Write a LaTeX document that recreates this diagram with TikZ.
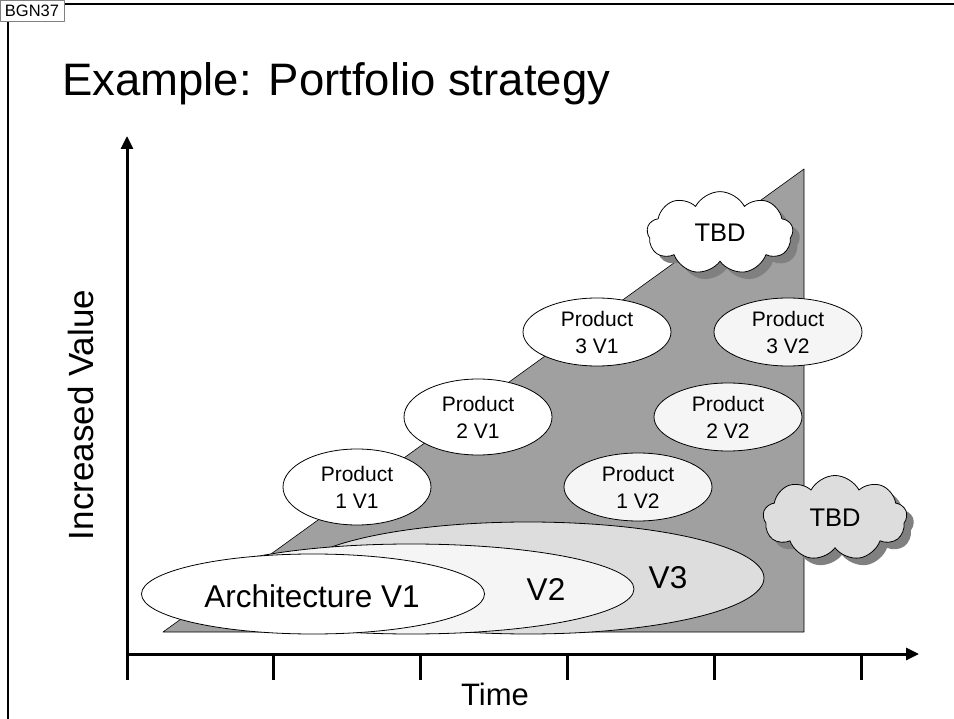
\documentclass[tikz,border=0pt]{standalone}
\usepackage{fontspec}
\setmainfont{Liberation Sans}
\usetikzlibrary{arrows.meta,shapes.geometric,shapes.symbols,shadows}
\definecolor{trifill}{RGB}{160,160,160}
\definecolor{vthree}{RGB}{221,221,221}
\definecolor{vtwo}{RGB}{245,245,245}
\definecolor{shadegray}{RGB}{128,128,128}
\tikzset{
	prod/.style={ellipse, draw, line width=0.8pt, fill=white, minimum width=148pt, minimum height=76pt, inner sep=0pt, align=center, font=\fontsize{21}{27}\selectfont},
	prodlow/.style={prod, minimum height=68pt},
	prodtwo/.style={prodlow, fill=vtwo},
	bigell/.style={ellipse, draw, line width=0.8pt, inner sep=0pt},
	biglabel/.style={inner sep=0pt, font=\fontsize{31.5}{32}\selectfont},
	tbd/.style={cloud, cloud puffs=9, cloud puff arc=125, draw, line width=0.8pt, inner sep=0pt, font=\fontsize{25.5}{26}\selectfont, drop shadow={shadow xshift=7pt, shadow yshift=-7pt, fill=shadegray, opacity=1}},
	valaxis/.style={line width=3pt, -{Triangle[length=13pt,width=12pt]}},
	timetick/.style={line width=3pt}
}
\begin{document}
\begin{tikzpicture}[x=1pt, y=-1pt, line join=round]
			\useasboundingbox (0,0) rectangle (954,719);
			\draw[line width=2pt] (8,719) -- (8,4) -- (954,4);
			\node[draw=gray, fill=white, line width=0.6pt, minimum width=64pt, minimum height=21pt, inner sep=0pt, font=\fontsize{16.5}{16.5}\selectfont] (tag) at (32,10.5) {BGN37};
			\node[anchor=base west, inner sep=0pt, font=\fontsize{45.5}{46}\selectfont] (title) at (62,96) {Example: Portfolio strategy};
			\coordinate (tribl) at (163,632);
			\coordinate (tritop) at (804,169);
			\coordinate (tribr) at (804,632);
			\draw[fill=trifill, line width=0.6pt] (tribl) -- (tritop) -- (tribr) -- cycle;
			\node[tbd, fill=white, minimum width=146pt, minimum height=82pt] (tbdtop) at (720,233) {TBD};
			\node[prod] (p1v1) at (357,487) {Product\\1 V1};
			\node[prod] (p2v1) at (478,417) {Product\\2 V1};
			\node[prodlow] (p3v1) at (597,332) {Product\\3 V1};
			\node[prodtwo] (p1v2) at (638,487) {Product\\1 V2};
			\node[prodtwo] (p2v2) at (728,417) {Product\\2 V2};
			\node[prodtwo] (p3v2) at (788,332) {Product\\3 V2};
			\node[bigell, fill=vthree, minimum width=472pt, minimum height=112pt] (v3) at (528,578) {};
			\node[bigell, fill=vtwo, minimum width=446pt, minimum height=90pt] (v2) at (411,589) {};
			\node[bigell, fill=white, minimum width=343pt, minimum height=80pt] (v1) at (313,594) {};
			\node[biglabel] (v1lbl) at (312,596) {Architecture V1};
			\node[biglabel] (v2lbl) at (546,590) {V2};
			\node[biglabel] (v3lbl) at (668,578) {V3};
			\node[tbd, fill=vthree, minimum width=144pt, minimum height=85pt] (tbdlow) at (835,518) {TBD};
			\coordinate (origin) at (127,654);
			\coordinate (ytop) at (127,136);
			\coordinate (xend) at (919,654);
			\coordinate (ybot) at (127,680);
			\draw[valaxis] (ybot) -- (ytop);
			\draw[valaxis] (origin) -- (xend);
			\foreach \tx in {273,420,567,714,861}
				\draw[timetick] (\tx,654) -- (\tx,680);
			\node[rotate=90, inner sep=0pt, font=\fontsize{35}{35}\selectfont] (ylbl) at (81,415) {Increased Value};
			\node[inner sep=0pt, font=\fontsize{31}{31}\selectfont] (xlbl) at (495,694) {Time};
\end{tikzpicture}
\end{document}
